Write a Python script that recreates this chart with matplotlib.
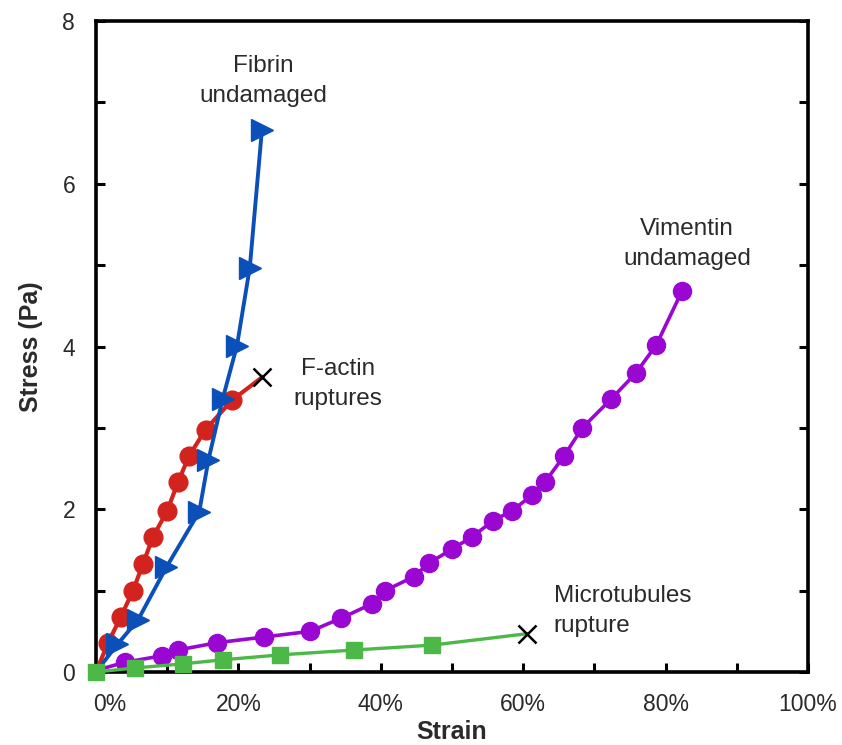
import matplotlib
matplotlib.use("Agg")
import matplotlib.pyplot as plt
from matplotlib.ticker import FixedLocator, MultipleLocator
from matplotlib.transforms import ScaledTranslation

plt.rcParams['font.family'] = ['Liberation Sans', 'DejaVu Sans']

# ---- data (strain in %, stress in Pa) ----
vimentin_x = [0, 4.1, 9.3, 11.5, 17.0, 23.6, 30.1, 34.4, 38.8, 40.6, 44.6, 46.8,
              50.0, 52.8, 55.8, 58.4, 61.2, 63.1, 65.7, 68.3, 72.3, 75.8, 78.7, 82.3]
vimentin_y = [0.02, 0.12, 0.20, 0.27, 0.36, 0.43, 0.50, 0.66, 0.84, 1.00, 1.17, 1.34,
              1.51, 1.66, 1.86, 1.98, 2.17, 2.34, 2.65, 3.00, 3.35, 3.67, 4.02, 4.68]

actin_x = [0, 1.7, 3.5, 5.2, 6.6, 8.0, 10.0, 11.5, 13.1, 15.4, 19.1]
actin_y = [0, 0.36, 0.68, 1.00, 1.33, 1.66, 1.98, 2.33, 2.66, 2.98, 3.34]
actin_rupture = (23.3, 3.62)

fibrin_x = [0, 3.0, 5.9, 9.9, 14.5, 15.8, 17.8, 19.8, 21.6, 23.3]
fibrin_y = [0, 0.34, 0.64, 1.29, 1.97, 2.61, 3.36, 4.01, 4.97, 6.66]

micro_x = [0, 5.5, 12.2, 17.8, 25.8, 36.2, 47.2]
micro_y = [0, 0.05, 0.10, 0.15, 0.21, 0.27, 0.33]
micro_rupture = (60.5, 0.47)

x_ticks = [0, 20, 40, 60, 80, 100]
x_ticklabels = ['0%', '20%', '40%', '60%', '80%', '100%']
y_ticks = [0, 2, 4, 6, 8]
y_ticklabels = ['0', '2', '4', '6', '8']

# ---- colours ----
c_red = '#D2231E'
c_blue = '#0B4FB8'
c_purple = '#9A06D2'
c_green = '#4CB848'
c_text = '#2a2a2a'

fig = plt.figure(figsize=(8.42, 7.45), dpi=100)
ax = fig.add_axes([96/842, 1-672/745, (808-96)/842, (672-21)/745])

# Vimentin
ax.plot(vimentin_x, vimentin_y, color=c_purple, lw=2.6, marker='o', ms=13,
        markevery=list(range(1, len(vimentin_x))), zorder=2, clip_on=False)
# F-actin (line continues to rupture point)
ax.plot(actin_x + [actin_rupture[0]], actin_y + [actin_rupture[1]], color=c_red, lw=3.0,
        zorder=3, clip_on=False)
ax.plot(actin_x[1:], actin_y[1:], ls='none', color=c_red, marker='o', ms=13.5, zorder=3)
ax.plot([actin_rupture[0]], [actin_rupture[1]], ls='none', marker='x', color='black',
        ms=13, mew=1.8, zorder=6)
# Fibrin
ax.plot(fibrin_x, fibrin_y, color=c_blue, lw=2.8, marker='>', ms=15.5,
        markevery=list(range(1, len(fibrin_x))), zorder=4, clip_on=False)
# Microtubules
ax.plot(micro_x + [micro_rupture[0]], micro_y + [micro_rupture[1]], color=c_green, lw=2.4,
        zorder=5, clip_on=False)
ax.plot(micro_x, micro_y, ls='none', color=c_green, marker='s', ms=12, zorder=5,
        clip_on=False)
ax.plot([micro_rupture[0]], [micro_rupture[1]], ls='none', marker='x', color='black',
        ms=13, mew=1.8, zorder=6)

# ---- annotations ----
fs = 17.5
ls = 1.5
ax.text(23.5, 7.26, 'Fibrin\nundamaged', ha='center', va='center', fontsize=fs,
        color=c_text, linespacing=ls)
ax.text(34.0, 3.54, 'F-actin\nruptures', ha='center', va='center', fontsize=fs,
        color=c_text, linespacing=ls)
ax.text(83.0, 5.26, 'Vimentin\nundamaged', ha='center', va='center', fontsize=fs,
        color=c_text, linespacing=ls)
ax.text(64.3, 0.75, 'Microtubules\nrupture', ha='left', va='center', fontsize=fs,
        color=c_text, linespacing=ls)

# ---- axes ----
ax.set_xlim(0, 100)
ax.set_ylim(0, 8)
ax.xaxis.set_major_locator(FixedLocator(x_ticks))
ax.xaxis.set_minor_locator(MultipleLocator(10))
ax.yaxis.set_major_locator(FixedLocator(y_ticks))
ax.yaxis.set_minor_locator(MultipleLocator(1))
ax.set_xticklabels(x_ticklabels)
ax.set_yticklabels(y_ticklabels)

for sp in ax.spines.values():
    sp.set_linewidth(2.6)

ax.tick_params(axis='both', which='both', direction='in', length=6.5, width=2.2,
               color='black')
ax.tick_params(axis='y', which='both', left=True, right=True, labelsize=16.5, pad=15,
               labelcolor=c_text)
ax.tick_params(axis='x', which='both', bottom=True, top=False, labelsize=16.5, pad=15,
               labelcolor=c_text)

# nudge the 0% label to the right as in the reference
lbl0 = ax.xaxis.get_major_ticks()[0].label1
lbl0.set_transform(lbl0.get_transform() + ScaledTranslation(14/100, 0, fig.dpi_scale_trans))

ax.set_xlabel('Strain', fontsize=18, fontweight='bold', color=c_text)
ax.set_ylabel('Stress (Pa)', fontsize=18, fontweight='bold', color=c_text)
ax.xaxis.set_label_coords(0.5, -0.073)
ax.yaxis.set_label_coords(-0.075, 0.5)

fig.savefig('out.png', dpi=100)
